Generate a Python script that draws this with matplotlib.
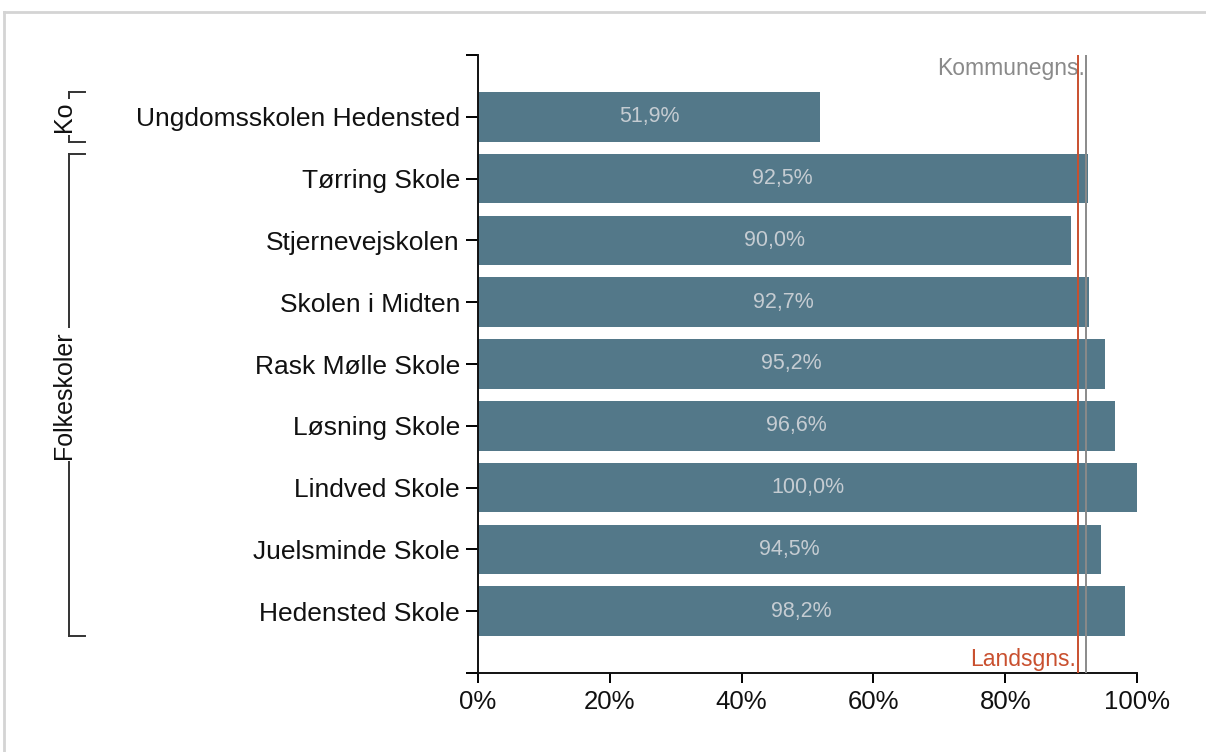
import matplotlib.pyplot as plt
from matplotlib.lines import Line2D
from matplotlib.transforms import blended_transform_factory
import numpy as np

plt.rcParams["font.family"] = ["Liberation Sans", "DejaVu Sans"]

schools = [
    "Ungdomsskolen Hedensted",
    "Tørring Skole",
    "Stjernevejskolen",
    "Skolen i Midten",
    "Rask Mølle Skole",
    "Løsning Skole",
    "Lindved Skole",
    "Juelsminde Skole",
    "Hedensted Skole",
]
values = [51.9, 92.5, 90.0, 92.7, 95.2, 96.6, 100.0, 94.5, 98.2]
groups = [("Ko", 0, 0), ("Folkeskoler", 1, 8)]
lands_avg = 91.0
kommune_avg = 92.2

W, H = 1206, 752
fig = plt.figure(figsize=(W / 100, H / 100), dpi=100)
ax = fig.add_axes([478 / W, 1 - 673 / H, (1137 - 478) / W, (673 - 55) / H])

y = np.arange(len(schools))
ax.barh(y, values, height=0.8, color="#537889", zorder=2)
for yi, v in zip(y, values):
    ax.text(v / 2, yi, f"{v:.1f}%".replace(".", ","), ha="center", va="center",
            fontsize=15.5, color="#c5ccd2", zorder=3)

ax.axvline(lands_avg, color="#c9502f", lw=1.4, zorder=4)
ax.axvline(kommune_avg, color="#8a8a8a", lw=1.4, zorder=4)
ax.text(kommune_avg - 0.1, -0.97, "Kommunegns.", ha="right", va="top",
        fontsize=16.5, color="#8a8a8a")
ax.text(lands_avg - 0.3, 8.97, "Landsgns.", ha="right", va="bottom",
        fontsize=16.5, color="#c9502f")

ax.set_xlim(0, 100)
ax.set_ylim(9, -1)
ax.set_xticks(np.arange(0, 101, 20))
ax.set_xticklabels([f"{t}%" for t in range(0, 101, 20)])
ax.set_yticks(list(y) + [-1, 9])
ax.set_yticklabels(schools + ["", ""])
ax.tick_params(axis="y", length=9, width=1.4, pad=4, labelsize=19, labelcolor="#111111")
ax.tick_params(axis="x", length=7, width=1.4, pad=5, labelsize=18.5, labelcolor="#111111")
for side in ["top", "right"]:
    ax.spines[side].set_visible(False)
for side in ["left", "bottom"]:
    ax.spines[side].set_linewidth(1.4)
    ax.spines[side].set_color("#111111")
ax.spines["left"].set_bounds(-1, 9)

# group brackets on the left
tr = blended_transform_factory(fig.transFigure, ax.transData)
xl, xr = 69 / W, 85 / W
for name, start, end in groups:
    top, bot = start - 0.4, end + 0.4
    for seg in ([xl, xl], [top, bot]), ([xl, xr], [top, top]), ([xl, xr], [bot, bot]):
        fig.add_artist(Line2D(seg[0], seg[1], transform=tr, color="#333333", lw=1.4))
    fig.text(64 / W, (start + end) / 2, name, rotation=90, ha="center", va="center",
             fontsize=18, color="#111111", transform=tr,
             bbox=dict(facecolor="white", edgecolor="none", pad=2))

# light frame
fig.add_artist(Line2D([4 / W, 1], [1 - 12 / H, 1 - 12 / H], color="#d4d4d4", lw=2))
fig.add_artist(Line2D([4 / W, 4 / W], [0, 1 - 12 / H], color="#d4d4d4", lw=2))

fig.savefig("out.png", dpi=100)
